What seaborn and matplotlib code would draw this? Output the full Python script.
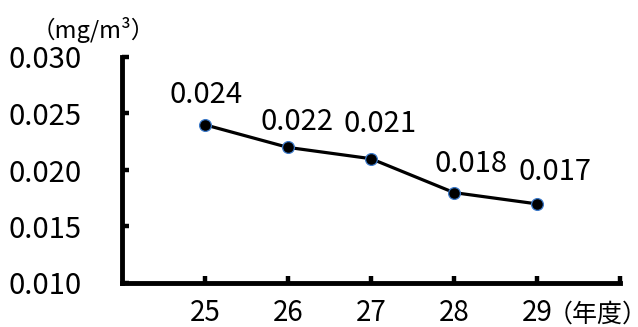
import matplotlib
matplotlib.use("Agg")
import matplotlib.pyplot as plt
import seaborn as sns
import numpy as np
import pandas as pd

# ---- data ----
years = ["25", "26", "27", "28", "29"]
values = [0.024, 0.022, 0.021, 0.018, 0.017]
value_labels = ["0.024", "0.022", "0.021", "0.018", "0.017"]
y_ticks = [0.010, 0.015, 0.020, 0.025, 0.030]
y_tick_labels = ["0.010", "0.015", "0.020", "0.025", "0.030"]
unit_label = "（mg/m³）"
x_unit_label = "（年度）"

# label offsets (pixels) for the data labels
label_offsets = [(1, 30), (9, 25), (9, 35), (17, 29), (18, 32)]

sns.set_theme(style="white")
main_font = ["Noto Sans CJK JP", "DejaVu Sans"]
plt.rcParams["font.family"] = main_font

fig = plt.figure(figsize=(6.38, 3.27), dpi=100)
ax = fig.add_axes([122 / 638, 1 - 283 / 327, (620 - 122) / 638, (283 - 57) / 327])

df = pd.DataFrame({"pos": np.arange(len(years)), "value": values})
sns.lineplot(data=df, x="pos", y="value", ax=ax, color="black", linewidth=2.3,
             marker="o", markersize=8.5, markerfacecolor="black",
             markeredgecolor="#3a78c8", markeredgewidth=0.9, zorder=3)

ax.set_xlim(-1, len(years))
ax.set_ylim(y_ticks[0], y_ticks[-1])
ax.set_xticks(list(range(len(years) + 1)))
ax.set_xticklabels(years + [""])
ax.set_yticks(y_ticks)
ax.set_yticklabels(y_tick_labels)
ax.set_xlabel("")
ax.set_ylabel("")

for side in ["top", "right"]:
    ax.spines[side].set_visible(False)
for side in ["left", "bottom"]:
    ax.spines[side].set_linewidth(3.5)
    ax.spines[side].set_color("black")
    ax.spines[side].set_capstyle("projecting")

ax.tick_params(axis="both", which="major", bottom=True, left=True,
               direction="in", length=5, width=3.2, color="black",
               labelcolor="black")
ax.tick_params(axis="y", pad=29, labelsize=21)
ax.tick_params(axis="x", pad=11, labelsize=20)
ax.grid(False)

for i, (v, lab) in enumerate(zip(values, value_labels)):
    dx, dy = label_offsets[i]
    ax.annotate(lab, xy=(i, v), xytext=(dx, dy), textcoords="offset pixels",
                ha="center", va="center", fontsize=21, color="black")

fig.text(93 / 638, 1 - 30 / 327, unit_label, ha="center", va="center",
         fontsize=17, color="black")
fig.text(598 / 638, 1 - 315 / 327, x_unit_label, ha="center", va="center",
         fontsize=18, color="black")

fig.savefig("out.png", dpi=100)
